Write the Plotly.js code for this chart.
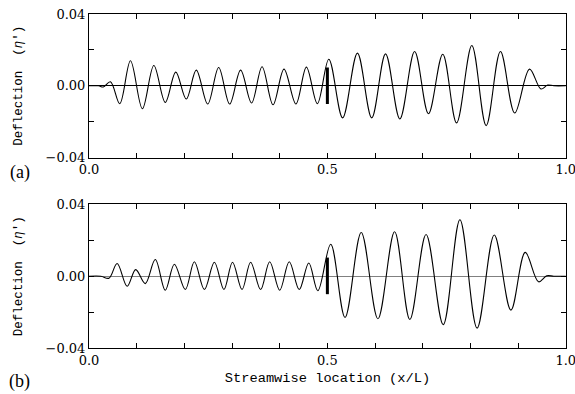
<!DOCTYPE html>
<html>
<head>
<meta charset="utf-8">
<script src="https://cdn.plot.ly/plotly-3.0.1.min.js"></script>
<style>
html,body{margin:0;padding:0;background:#fff;}
#chart{width:575px;height:394px;}
</style>
</head>
<body>
<div id="chart"></div>
<script>
// Panel (a): deflection vs streamwise location (extrema)
var xa = [0, 0.02, 0.03, 0.045, 0.0645, 0.087, 0.112, 0.136, 0.160, 0.182, 0.204, 0.225, 0.249, 0.272, 0.295, 0.318, 0.341, 0.363, 0.386, 0.409, 0.434, 0.456, 0.479, 0.503, 0.532, 0.563, 0.593, 0.622, 0.652, 0.683, 0.712, 0.742, 0.771, 0.803, 0.833, 0.863, 0.893, 0.924, 0.948, 0.962, 0.975, 1.0];
var ya = [0, 0, -0.0007, 0.0022, -0.0100, 0.0139, -0.0128, 0.0113, -0.0093, 0.0076, -0.0074, 0.0087, -0.0102, 0.0102, -0.0102, 0.0087, -0.0096, 0.0106, -0.0106, 0.0093, -0.0102, 0.0104, -0.0100, 0.0148, -0.0179, 0.0182, -0.0179, 0.0178, -0.0185, 0.0191, -0.0156, 0.0176, -0.0207, 0.0224, -0.0222, 0.0191, -0.0152, 0.0093, -0.0018, 0.0004, 0, 0];

// Panel (b)
var xb = [0, 0.025, 0.042, 0.059, 0.080, 0.098, 0.118, 0.139, 0.160, 0.179, 0.202, 0.221, 0.242, 0.263, 0.283, 0.301, 0.321, 0.339, 0.360, 0.379, 0.400, 0.420, 0.441, 0.461, 0.480, 0.507, 0.537, 0.571, 0.606, 0.641, 0.673, 0.707, 0.743, 0.778, 0.814, 0.850, 0.885, 0.915, 0.943, 0.960, 0.975, 1.0];
var yb = [0, 0, -0.0011, 0.0071, -0.0056, 0.0037, -0.0041, 0.0093, -0.0078, 0.0067, -0.0074, 0.0081, -0.0074, 0.0078, -0.0074, 0.0078, -0.0074, 0.0078, -0.0074, 0.0081, -0.0078, 0.0081, -0.0074, 0.0074, -0.0081, 0.0178, -0.0230, 0.0244, -0.0237, 0.0248, -0.0241, 0.0233, -0.0270, 0.0315, -0.0289, 0.0230, -0.0189, 0.0133, -0.0031, 0.0002, 0, 0];

// Marker bar at x/L = 0.5
var barX = [0.5, 0.5];
var barYa = [-0.0102, 0.0102];
var barYb = [-0.0100, 0.0104];

// Tick labels
var xTickVals = [0, 0.1, 0.2, 0.3, 0.4, 0.5, 0.6, 0.7, 0.8, 0.9, 1.0];
var xTickText = ['0.0', '', '', '', '', '0.5', '', '', '', '', '1.0'];
var yTickVals = [-0.04, -0.02, 0, 0.02, 0.04];
var yTickText = ['\u22120.04', '', '0.00', '', '0.04'];

var serif = 'DejaVu Serif, serif';
var mono = 'Liberation Mono, monospace';

var traces = [
  {x: xa, y: ya, xaxis: 'x2', yaxis: 'y2', mode: 'lines', line: {color: '#000', width: 1.1, shape: 'spline', smoothing: 1}, hoverinfo: 'skip'},
  {x: barX, y: barYa, xaxis: 'x2', yaxis: 'y2', mode: 'lines', line: {color: '#000', width: 3}, hoverinfo: 'skip'},
  {x: xb, y: yb, xaxis: 'x', yaxis: 'y', mode: 'lines', line: {color: '#000', width: 1.1, shape: 'spline', smoothing: 1}, hoverinfo: 'skip'},
  {x: barX, y: barYb, xaxis: 'x', yaxis: 'y', mode: 'lines', line: {color: '#000', width: 3}, hoverinfo: 'skip'}
];

function xAxis(anchor, withTitle) {
  var a = {
    domain: [0, 1], anchor: anchor, range: [0, 1.0005],
    tickmode: 'array', tickvals: xTickVals, ticktext: xTickText,
    ticks: 'inside', ticklen: 5, tickwidth: 1, tickcolor: '#000',
    ticklabeloverflow: 'allow',
    showline: true, linecolor: '#000', linewidth: 1, mirror: 'ticks',
    showgrid: false, zeroline: false,
    tickfont: {family: serif, size: 13, color: '#000'}
  };
  if (withTitle) {
    a.title = {text: 'Streamwise location (x/L)', font: {family: mono, size: 13.7, color: '#000'}, standoff: 5};
  }
  return a;
}
function yAxis(anchor, domain, zcolor) {
  return {
    domain: domain, anchor: anchor, range: [-0.04, 0.04],
    tickmode: 'array', tickvals: yTickVals, ticktext: yTickText,
    ticks: 'inside', ticklen: 5, tickwidth: 1, tickcolor: '#000',
    ticklabeloverflow: 'allow',
    showline: true, linecolor: '#000', linewidth: 1, mirror: 'ticks',
    showgrid: false, zeroline: true, zerolinecolor: zcolor, zerolinewidth: 1.4,
    tickfont: {family: serif, size: 13, color: '#000'},
    title: {text: 'Deflection\u00a0\u00a0(<i>\u03b7</i>\')', font: {family: mono, size: 12.5, color: '#000'}, standoff: 20}
  };
}

var layout = {
  width: 575, height: 394,
  margin: {l: 89, r: 9, t: 14, b: 46},
  paper_bgcolor: '#fff', plot_bgcolor: '#fff',
  showlegend: false,
  xaxis: xAxis('y', true),
  yaxis: yAxis('x', [0, 0.4297], '#808080'),
  xaxis2: xAxis('y2', false),
  yaxis2: yAxis('x2', [0.5703, 1], '#000'),
  annotations: [
    {text: '(a)', xref: 'paper', yref: 'paper', x: -0.145, y: 0.524, xanchor: 'center', yanchor: 'middle', showarrow: false, font: {family: 'Liberation Serif, serif', size: 18, color: '#000'}},
    {text: '(b)', xref: 'paper', yref: 'paper', x: -0.145, y: -0.099, xanchor: 'center', yanchor: 'middle', showarrow: false, font: {family: 'Liberation Serif, serif', size: 18, color: '#000'}}
  ]
};

Plotly.newPlot('chart', traces, layout, {displayModeBar: false, staticPlot: true});
</script>
</body>
</html>
